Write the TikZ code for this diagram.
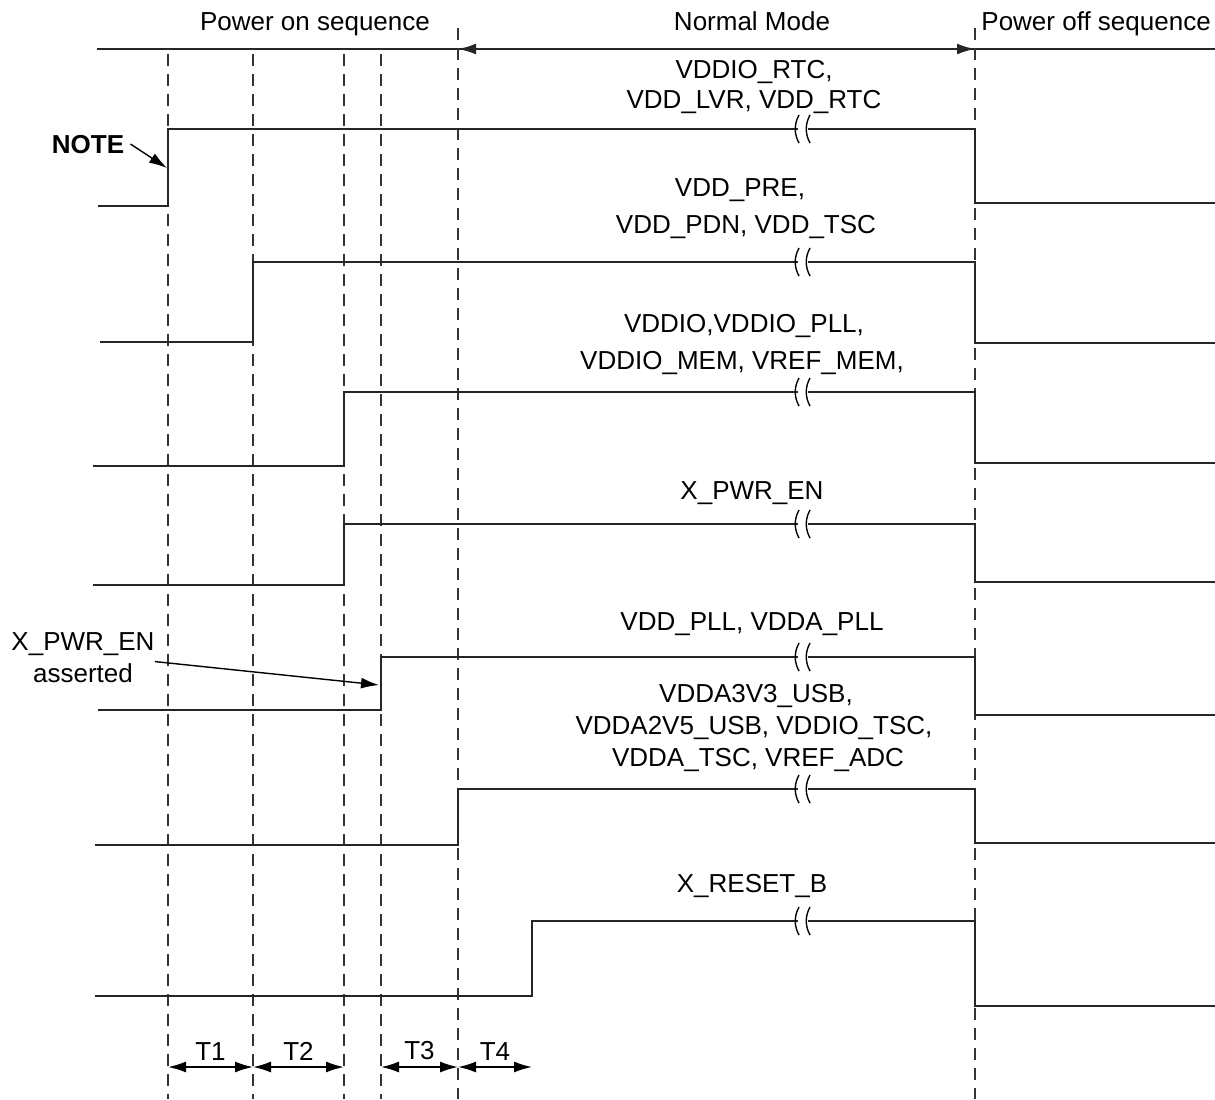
\documentclass[tikz,border=0pt]{standalone}
\usepackage{fontspec}
\setmainfont{Liberation Sans}
\usetikzlibrary{arrows.meta}

\begin{document}
\begin{tikzpicture}[x=0.5pt,y=-0.5pt,>={Latex[length=9pt,width=5.5pt]},
    font=\fontsize{13}{15}\selectfont,
    every node/.style={inner sep=0pt},
    sig/.style={line width=1pt,black!85},
    grid/.style={line width=0.6pt,black!80,dash pattern=on 6pt off 4pt},
    lbl/.style={anchor=base},
    brk/.pic={\fill[white] (-5,-3) rectangle (5,3);
      \draw[line width=0.7pt] (-4,-14) .. controls (-9,-5) and (-9,5) .. (-4,14)
        (7,-14) .. controls (2,-5) and (2,5) .. (7,14);}]
  \useasboundingbox (0,0) rectangle (1215,1099);

  % phases
  \node[lbl] (pon) at (315,30) {Power on sequence};
  \node[lbl] (norm) at (752,30) {Normal Mode};
  \node[lbl,anchor=base west] (poff) at (981,30) {Power off sequence};
  \coordinate (tl) at (97,49);
  \coordinate (tr) at (1215,49);
  \coordinate (ns) at (458,49);
  \coordinate (ne) at (975,49);
  \draw[sig] (tl) -- (tr);
  \draw[sig,<->] (ns) -- (ne);

  % time marks
  \foreach \x in {168,253,344,381} \draw[grid] (\x,54) -- (\x,1099);
  \foreach \x in {458,975} \draw[grid] (\x,28) -- (\x,1099);

  % supply rails: start x / low y / rise x / high y / low y after power off
  \foreach \n/\xs/\lo/\xr/\hi/\lf in {1/98/206/168/129/203,2/100/342/253/262/343,
      3/93/466/344/392/463,4/93/585/344/524/582,5/98/710/381/657/715,
      6/95/845/458/789/843,7/95/996/532/921/1006}{
    \coordinate (up\n) at (\xr,\hi);
    \coordinate (dn\n) at (975,\hi);
    \draw[sig] (\xs,\lo) -- (\xr,\lo) -- (up\n) -- (dn\n) -- (975,\lf) -- (1215,\lf);
    \pic at (803,\hi) {brk};
  }

  % rail names
  \foreach \nm/\x/\y/\t in {l1a/754/78/{VDDIO\_RTC,},l1b/754/108/{VDD\_LVR, VDD\_RTC},
      l2a/740/196/{VDD\_PRE,},l2b/746/233/{VDD\_PDN, VDD\_TSC},
      l3a/744/332/{VDDIO,VDDIO\_PLL,},l3b/742/369/{VDDIO\_MEM, VREF\_MEM,},
      l4/752/499/{X\_PWR\_EN},l5/752/630/{VDD\_PLL, VDDA\_PLL},
      l6a/756/702/{VDDA3V3\_USB,},l6b/754/734/{VDDA2V5\_USB, VDDIO\_TSC,},
      l6c/758/766/{VDDA\_TSC, VREF\_ADC},l7/752/892/{X\_RESET\_B}}
    \node[lbl] (\nm) at (\x,\y) {\t};

  % notes
  \node[lbl,inner sep=3pt] (note) at (88,153) {\bfseries NOTE};
  \coordinate (nt) at (167,168);
  \draw[->,line width=0.7pt] (note.east) -- (nt);
  \node[lbl] (asl1) at (83,650) {X\_PWR\_EN};
  \node[lbl] (asl2) at (83,682) {asserted};
  \coordinate (asrt) at (379,685);
  \draw[->,line width=0.7pt] ([yshift=-3pt]asl1.south east) -- (asrt);

  % intervals
  \foreach \x in {168,253,344,381,458,532} \coordinate (m\x) at (\x,1067);
  \foreach \a/\b/\t in {168/253/T1,253/344/T2,381/458/T3,458/532/T4}
    \draw[<->,line width=0.8pt] (m\a) -- (m\b) node[midway,above=3pt] (\t) {\t};
\end{tikzpicture}
\end{document}
